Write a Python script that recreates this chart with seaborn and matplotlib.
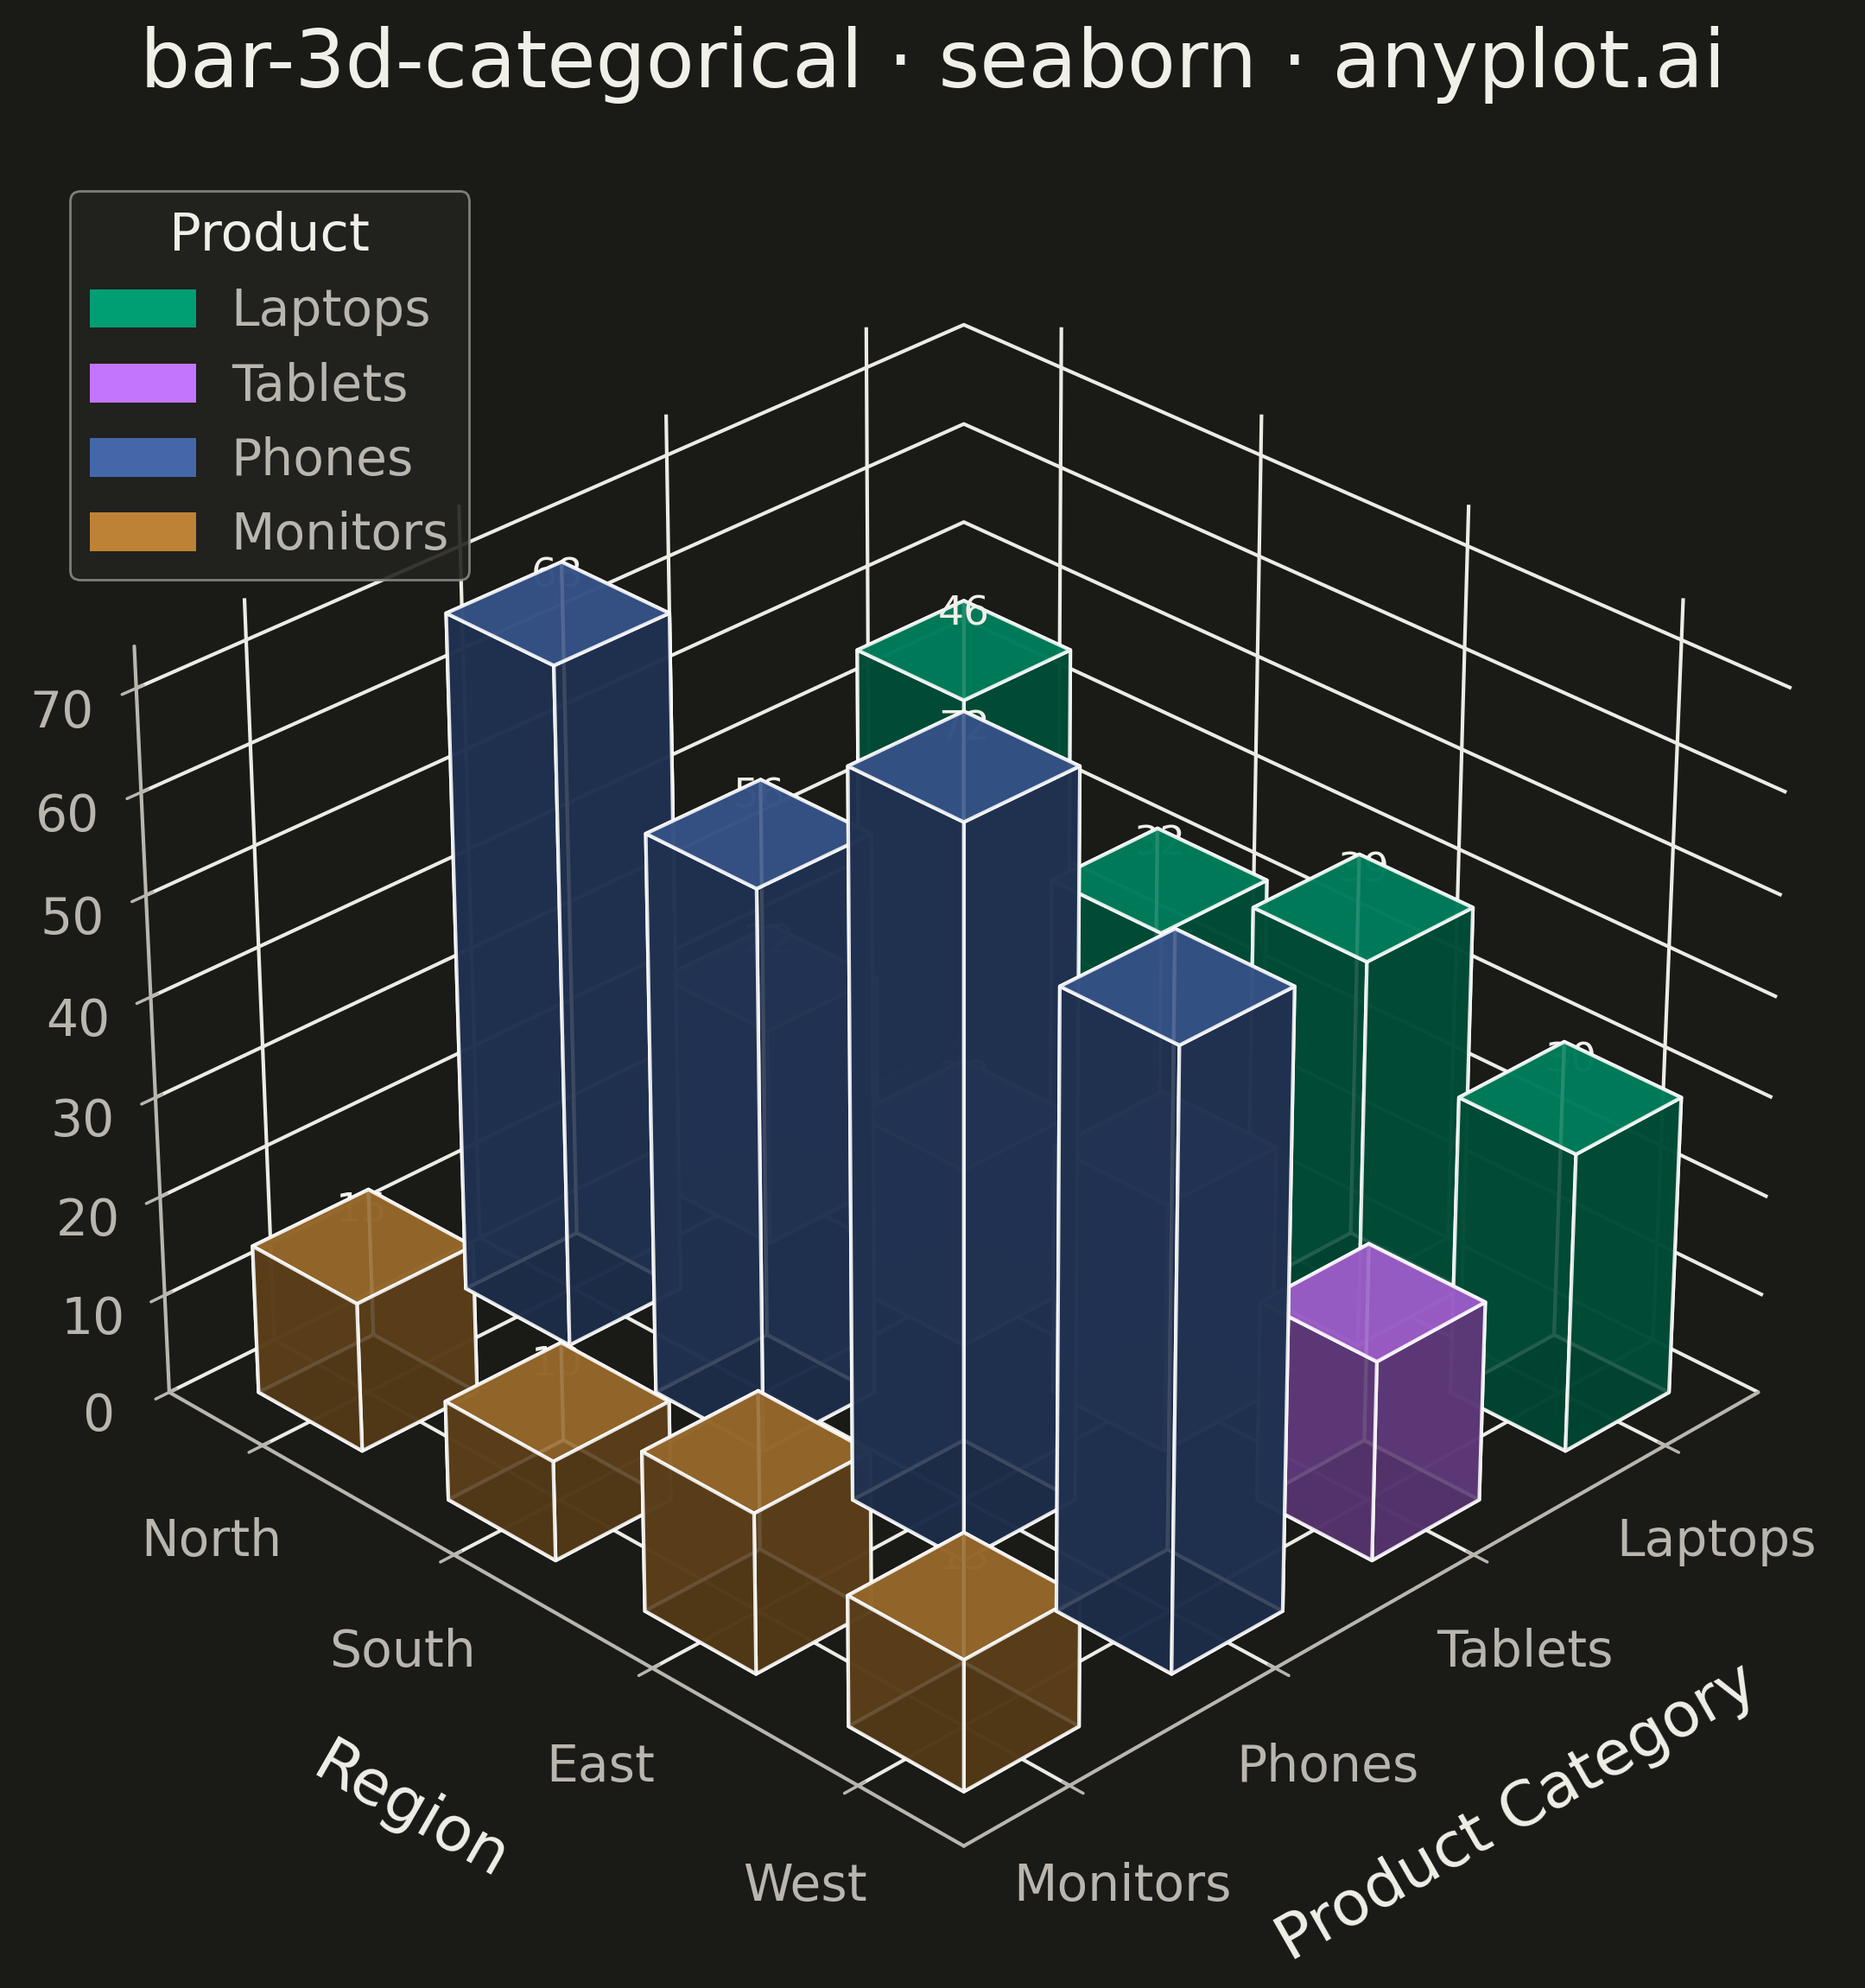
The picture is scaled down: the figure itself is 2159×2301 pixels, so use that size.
import numpy as np
import matplotlib
matplotlib.use("Agg")
import matplotlib.pyplot as plt
import seaborn as sns
from matplotlib.patches import Patch

# ---- data ----
regions = ["North", "South", "East", "West"]
products = ["Laptops", "Tablets", "Phones", "Monitors"]
laptops = [46, 32, 39, 30]
tablets = [22, 18, 25, 20]
phones = [68, 56, 72, 61]
monitors = [15, 10, 16, 13]
series = [laptops, tablets, phones, monitors]
palette_hex = ["#009E73", "#C475FD", "#4467A9", "#BD8236"]

BG = "#1A1A17"
FG = "#F0EFE8"
MUTED = "#B8B6AE"
GRID = "#ECEBE4"

sns.set_theme(style="dark", rc={
    "figure.facecolor": BG,
    "axes.facecolor": BG,
    "axes.edgecolor": MUTED,
    "grid.color": GRID,
    "grid.linewidth": 1.5,
    "text.color": FG,
    "axes.labelcolor": FG,
    "xtick.color": MUTED,
    "ytick.color": MUTED,
})
plt.rcParams["font.family"] = ["DejaVu Sans"]
palette = sns.color_palette(palette_hex)

fig = plt.figure(figsize=(10.795, 11.505), dpi=200, facecolor=BG)
ax = fig.add_axes([0.0034, 0.0057, 1.0, 0.93], projection="3d", facecolor=BG)

w = 0.55
for pi, vals in enumerate(series):
    for ri, v in enumerate(vals):
        ax.bar3d(pi - w / 2, ri - w / 2, 0, w, w, v,
                 color=palette[pi], alpha=0.85, shade=True,
                 edgecolor="white", linewidth=1.5)
        ax.text(pi, ri, v + 1.7, f"{v}", ha="center", va="bottom",
                fontsize=17, color=FG)

ax.set_xlim(-0.5, 3.5)
ax.set_ylim(-0.5, 3.5)
ax.set_zlim(0, 74)
ax.set_xticks(range(len(products)))
ax.set_xticklabels(products)
ax.set_yticks(range(len(regions)))
ax.set_yticklabels(regions)
ax.set_zticks(range(0, 71, 10))
ax.tick_params(axis="both", labelsize=21, colors=MUTED)
ax.tick_params(axis="x", pad=17)
ax.tick_params(axis="y", pad=17)
ax.tick_params(axis="z", pad=10)
ax.set_xlabel("Product Category", fontsize=26, color=FG, labelpad=47)
ax.set_ylabel("Region", fontsize=26, color=FG, labelpad=47)
ax.view_init(elev=30, azim=45)
ax.set_box_aspect(None, zoom=0.965)

for axis in (ax.xaxis, ax.yaxis, ax.zaxis):
    axis.set_pane_color((0, 0, 0, 0))
    axis.pane.set_edgecolor("#5E5D58")
    axis._axinfo["grid"]["color"] = GRID
    axis._axinfo["grid"]["linewidth"] = 1.5
    axis._axinfo["axisline"]["color"] = MUTED
    axis.line.set_color(MUTED)
    axis.line.set_linewidth(1.5)

fig.suptitle("bar-3d-categorical · seaborn · anyplot.ai", fontsize=33,
             color=FG, y=0.987)

handles = [Patch(facecolor=palette[i], edgecolor="none", label=products[i])
           for i in range(len(products))]
leg = fig.legend(handles=handles, title="Product", loc="upper left",
                 bbox_to_anchor=(0.0375, 0.904), borderaxespad=0,
                 fontsize=21, title_fontsize=22, handlelength=2.1,
                 handleheight=0.8, handletextpad=0.7, labelspacing=0.5,
                 frameon=True, facecolor="#22221F", edgecolor="#8A8984",
                 framealpha=0.9)
leg.get_title().set_color(FG)
for t in leg.get_texts():
    t.set_color(MUTED)

fig.savefig("out.png", dpi=200, facecolor=BG)
